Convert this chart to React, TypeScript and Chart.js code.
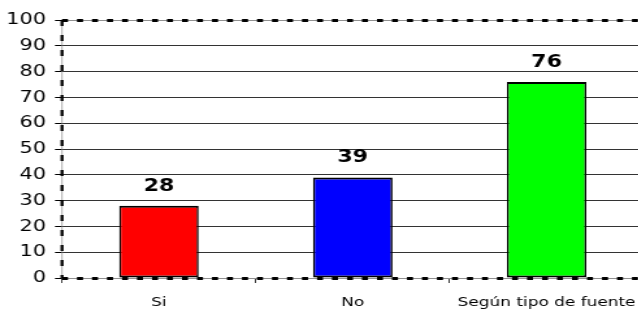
import React, { useEffect, useRef } from "react";
import { Chart, registerables } from "chart.js";
Chart.register(...registerables);

const categories = ["Si", "No", "Según tipo de fuente"];
const values = [28, 39, 76];
const barColors = ["#FF0000", "#0000FF", "#00FF00"];
const yMin = 0;
const yMax = 100;
const yStep = 10;

// horizontal stretch of the whole drawing (the reference is wide-stretched)
const SX = 1.3;
const FULL_W = 644;
const H = 312;
const W = FULL_W / SX;

const borderPlugin = {
  id: "dashBorder",
  afterDraw(chart: any) {
    const { ctx, chartArea } = chart;
    const { left, top, bottom } = chartArea;
    const right = chart.width;
    ctx.save();
    ctx.strokeStyle = "#909090";
    ctx.lineWidth = 1;
    ctx.setLineDash([]);
    ctx.beginPath();
    ctx.moveTo(left, top + 0.5);
    ctx.lineTo(right, top + 0.5);
    ctx.moveTo(left, bottom + 0.5);
    ctx.lineTo(right, bottom + 0.5);
    ctx.stroke();
    ctx.lineWidth = 1 / SX;
    ctx.beginPath();
    ctx.moveTo(left, top);
    ctx.lineTo(left, bottom);
    ctx.stroke();
    ctx.strokeStyle = "#000";
    ctx.lineWidth = 3;
    ctx.setLineDash([6 / SX, 9 / SX]);
    ctx.beginPath();
    ctx.moveTo(left, top + 0.5);
    ctx.lineTo(right, top + 0.5);
    ctx.moveTo(left, bottom + 0.5);
    ctx.lineTo(right, bottom + 0.5);
    ctx.stroke();
    ctx.lineWidth = 3 / SX;
    ctx.setLineDash([6, 9]);
    ctx.beginPath();
    ctx.moveTo(left, top);
    ctx.lineTo(left, bottom);
    ctx.stroke();
    ctx.restore();
  },
};

const labelPlugin = {
  id: "valueLabels",
  afterDatasetsDraw(chart: any) {
    const { ctx } = chart;
    const meta = chart.getDatasetMeta(0);
    ctx.save();
    ctx.font = "bold 17px 'DejaVu Sans'";
    ctx.fillStyle = "#000";
    ctx.textAlign = "center";
    ctx.textBaseline = "alphabetic";
    meta.data.forEach((el: any, i: number) => {
      ctx.fillText(String(values[i]), el.x, el.y - 15);
    });
    ctx.restore();
  },
};

export default function App() {
  const ref = useRef<HTMLCanvasElement>(null);
  useEffect(() => {
    if (!ref.current) return;
    const chart = new Chart(ref.current, {
      type: "bar",
      data: {
        labels: categories,
        datasets: [
          {
            data: values,
            backgroundColor: barColors,
            borderColor: "#000",
            borderWidth: { top: 2, bottom: 2, left: 2 / SX, right: 2 / SX },
            borderSkipped: false,
            categoryPercentage: 1,
            barPercentage: 0.41,
          },
        ],
      },
      options: {
        animation: false,
        responsive: false,
        maintainAspectRatio: false,
        layout: { padding: { top: 20, right: 0, left: 0, bottom: 0 } },
        plugins: { legend: { display: false }, tooltip: { enabled: false } },
        scales: {
          x: {
            afterFit(scale: any) {
              scale.height = 34;
              scale.paddingLeft = 0;
              scale.paddingRight = 0;
            },
            grid: {
              offset: true,
              drawOnChartArea: false,
              drawTicks: true,
              tickLength: 5,
              lineWidth: 1 / SX,
              color: "#000",
            },
            border: { display: false },
            ticks: {
              color: "#000",
              font: { family: "'DejaVu Sans'", size: 13 },
              padding: 12,
              maxRotation: 0,
              autoSkip: false,
            },
          },
          y: {
            min: yMin,
            max: yMax,
            afterFit(scale: any) {
              scale.width = 62 / SX;
              scale.paddingTop = 0;
              scale.paddingBottom = 0;
            },
            grid: {
              color: "#333",
              lineWidth: 1,
              tickLength: 7 / SX,
              tickColor: "#000",
            },
            border: { display: false },
            ticks: {
              stepSize: yStep,
              color: "#000",
              font: { family: "'DejaVu Sans'", size: 16 },
              padding: 7,
            },
          },
        },
      },
      plugins: [labelPlugin, borderPlugin],
    });
    return () => chart.destroy();
  }, []);
  return (
    <div
      style={{
        position: "fixed",
        left: 0,
        top: 0,
        width: W,
        height: H,
        transform: `scaleX(${SX})`,
        transformOrigin: "0 0",
      }}
    >
      <canvas ref={ref} width={W} height={H} style={{ width: W, height: H, display: "block" }} />
    </div>
  );
}
